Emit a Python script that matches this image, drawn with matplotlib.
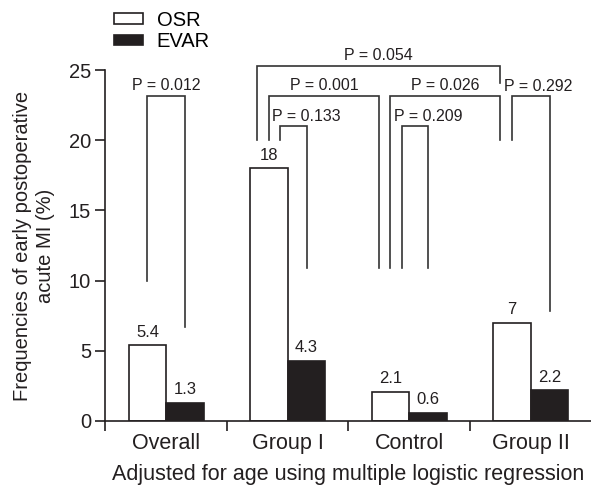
import numpy as np
import matplotlib
matplotlib.use('Agg')
from matplotlib import pyplot as plt
from matplotlib.patches import Patch

plt.rcParams['font.family'] = ['Liberation Sans', 'DejaVu Sans']

#  data
groups = ['Overall', 'Group I', 'Control', 'Group II']
osr = [5.4, 18, 2.1, 7]
evar = [1.3, 4.3, 0.6, 2.2]
osr_lbl = ['5.4', '18', '2.1', '7']
evar_lbl = ['1.3', '4.3', '0.6', '2.2']

#  brackets: left x, left bottom, right x, right bottom, top
br_xl = [-0.155, 0.75, 0.845, 0.94, 1.845, 1.94, 2.845]
br_yl = [10.0, 20.0, 20.0, 20.0, 10.9, 10.9, 20.0]
br_xr = [0.155, 2.75, 1.75, 1.155, 2.75, 2.155, 3.155]
br_yr = [6.7, 24.1, 10.9, 10.9, 20.0, 10.9, 7.8]
br_top = [23.15, 25.28, 23.15, 21.0, 23.15, 21.0, 23.15]
p_text = ['P = 0.012', 'P = 0.054', 'P = 0.001', 'P = 0.133',
          'P = 0.026', 'P = 0.209', 'P = 0.292']
#  None = centred over bracket, else left edge of text
p_x = [None, None, None, 0.87, None, 1.874, 2.78]

w = 0.31
x = np.arange(len(groups))
ink = '#231f20'

fig = plt.figure(figsize=(5.91, 4.91), dpi=100)
ax = fig.add_axes([0.1785, 0.1426, 0.8223, 0.7148])

ax.bar(x - w/2, osr, w, color='white', edgecolor=ink, linewidth=1.2, label='OSR')
ax.bar(x + w/2, evar, w, color=ink, edgecolor=ink, linewidth=1.2, label='EVAR')

for i in range(len(groups)):
    ax.annotate(osr_lbl[i], (x[i] - w/2, osr[i]), xytext=(0, 4), textcoords='offset points',
                ha='center', va='bottom', fontsize=12, color=ink)
    ax.annotate(evar_lbl[i], (x[i] + w/2, evar[i]), xytext=(0, 4), textcoords='offset points',
                ha='center', va='bottom', fontsize=12, color=ink)

lc = '#333333'
for i in range(len(br_xl)):
    ax.plot([br_xl[i], br_xl[i], br_xr[i], br_xr[i]], [br_yl[i], br_top[i], br_top[i], br_yr[i]],
            color=lc, lw=1.2, clip_on=False, solid_joinstyle='miter')
    if p_x[i] is None:
        ax.text((br_xl[i] + br_xr[i]) / 2, br_top[i] + 0.4, p_text[i], ha='center', va='baseline',
                fontsize=11.5, color=ink)
    else:
        ax.text(p_x[i], br_top[i] + 0.35, p_text[i], ha='left', va='baseline',
                fontsize=11.5, color=ink)

ax.set_xlim(-0.5, 3.5)
ax.set_ylim(0, 25)
ax.set_yticks([0, 5, 10, 15, 20, 25])
ax.set_xticks(np.arange(-0.5, 3.0, 1.0))
ax.set_xticklabels([])
ax.set_xticks(x, minor=True)
ax.set_xticklabels(groups, minor=True, fontsize=15.5, color=ink)
ax.tick_params(axis='x', which='minor', length=0, pad=9)
ax.tick_params(axis='x', which='major', length=7, width=1.2, color=ink)
ax.tick_params(axis='y', length=7, width=1.2, labelsize=14.5, color=ink, labelcolor=ink)
for s in ['top', 'right']:
    ax.spines[s].set_visible(False)
for s in ['left', 'bottom']:
    ax.spines[s].set_linewidth(1.2)
    ax.spines[s].set_color(ink)

ax.set_xlabel('Adjusted for age using multiple logistic regression', fontsize=15.5, color=ink, labelpad=7)
ax.set_ylabel('Frequencies of early postoperative\nacute MI (%)', fontsize=14.5, color=ink, labelpad=10,
              linespacing=1.25)

handles = [Patch(facecolor='white', edgecolor=ink, linewidth=1.2),
           Patch(facecolor=ink, edgecolor=ink, linewidth=1.2)]
fig.legend(handles, ['OSR', 'EVAR'], loc='upper left', bbox_to_anchor=(0.163, 1.015), frameon=False,
           fontsize=14.5, handlelength=1.4, handleheight=0.45, handletextpad=0.7, labelspacing=0.12)

fig.savefig('out.png', dpi=100)
